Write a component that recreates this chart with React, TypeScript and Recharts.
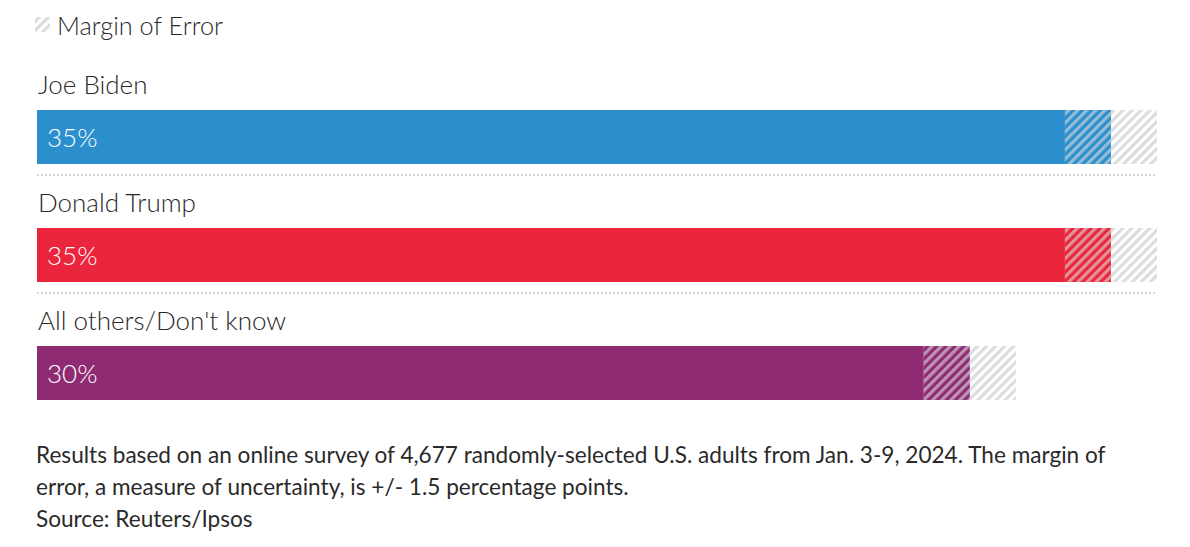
import React from 'react';
import { BarChart, Bar, XAxis, YAxis, LabelList, Cell } from 'recharts';

const categories = ['Joe Biden', 'Donald Trump', "All others/Don't know"];
const values = [35, 35, 30.4];
const valueLabels = ['35%', '35%', '30%'];
const marginOfError = 1.5;
const colors = ['#2a8fcc', '#eb253b', '#8f2b73'];
const domainMax = 36.5;

const legendLabel = 'Margin of Error';
const noteLines = [
  'Results based on an online survey of 4,677 randomly-selected U.S. adults from Jan. 3-9, 2024. The margin of',
  'error, a measure of uncertainty, is +/- 1.5 percentage points.',
];
const sourceLine = 'Source: Reuters/Ipsos';

const data = categories.map((c, i) => ({
  name: c,
  solid: values[i] - marginOfError,
  moeIn: marginOfError,
  moeOut: marginOfError,
}));

const FONT = 'Lato, "Noto Sans", sans-serif';
const TEXT = '#2a2a2a';
const STRIPE = '#dcdcdc';

const SolidLabel = (props: any) => {
  const { x, y, width, height, index } = props;
  const pxPerUnit = width / data[index].solid;
  const right = x + pxPerUnit * domainMax;
  return (
    <g>
      <text x={x + 1} y={y - 16} fill={TEXT} fontSize={26} fontWeight={300} fontFamily={FONT}>
        {categories[index]}
      </text>
      <text x={x + 10} y={y + height / 2 + 10} fill="#ffffff" fontSize={26} fontWeight={300} fontFamily={FONT}>
        {valueLabels[index]}
      </text>
      {index < categories.length - 1 && (
        <line x1={x} x2={right} y1={y + height + 11} y2={y + height + 11} stroke="#d6d6d6" strokeWidth={2} strokeDasharray="2 2" />
      )}
    </g>
  );
};

export default function App() {
  return (
    <div style={{ position: 'absolute', left: 0, top: 0, width: 1190, height: 547, background: '#fff', fontFamily: FONT }}>
      <svg width={1190} height={547} style={{ position: 'absolute', left: 0, top: 0 }}>
        <defs>
          <pattern id="hatch-gray-legend" patternUnits="userSpaceOnUse" width={6.4} height={6.4} patternTransform="rotate(45)">
            <rect x={0} y={0} width={3.2} height={6.4} fill={STRIPE} />
          </pattern>
        </defs>
        <rect x={35} y={17} width={15} height={15} fill="url(#hatch-gray-legend)" />
        <text x={57} y={35} fill={TEXT} fontSize={25.3} fontWeight={300} fontFamily={FONT}>{legendLabel}</text>
        {noteLines.map((l, i) => (
          <text key={i} x={36} y={463 + i * 32} fill={TEXT} fontSize={22.6} fontFamily={FONT}>{l}</text>
        ))}
        <text x={36} y={527} fill={TEXT} fontSize={22.6} fontFamily={FONT}>{sourceLine}</text>
      </svg>
      <div style={{ position: 'absolute', left: 0, top: 0 }}>
        <BarChart
          width={1190}
          height={547}
          layout="vertical"
          data={data}
          margin={{ top: 78, right: 33, left: 37, bottom: 115 }}
          barSize={54}
        >
          <defs>
            <pattern id="hatch-gray" patternUnits="userSpaceOnUse" width={6.4} height={6.4} patternTransform="rotate(45)">
              <rect x={0} y={0} width={3.2} height={6.4} fill={STRIPE} />
            </pattern>
            {colors.map((c, i) => (
              <pattern key={i} id={`hatch-${i}`} patternUnits="userSpaceOnUse" width={6.4} height={6.4} patternTransform="rotate(45)">
                <rect x={0} y={0} width={6.4} height={6.4} fill={c} />
                <rect x={0} y={0} width={3.2} height={6.4} fill="rgba(220,220,220,0.6)" />
              </pattern>
            ))}
          </defs>
          <XAxis type="number" domain={[0, domainMax]} hide />
          <YAxis type="category" dataKey="name" hide />
          <Bar dataKey="solid" stackId="a" isAnimationActive={false}>
            {data.map((d, i) => (
              <Cell key={i} fill={colors[i]} />
            ))}
            <LabelList dataKey="solid" content={SolidLabel} />
          </Bar>
          <Bar dataKey="moeIn" stackId="a" isAnimationActive={false}>
            {data.map((d, i) => (
              <Cell key={i} fill={`url(#hatch-${i})`} />
            ))}
          </Bar>
          <Bar dataKey="moeOut" stackId="a" fill="url(#hatch-gray)" isAnimationActive={false} />
        </BarChart>
      </div>
    </div>
  );
}
